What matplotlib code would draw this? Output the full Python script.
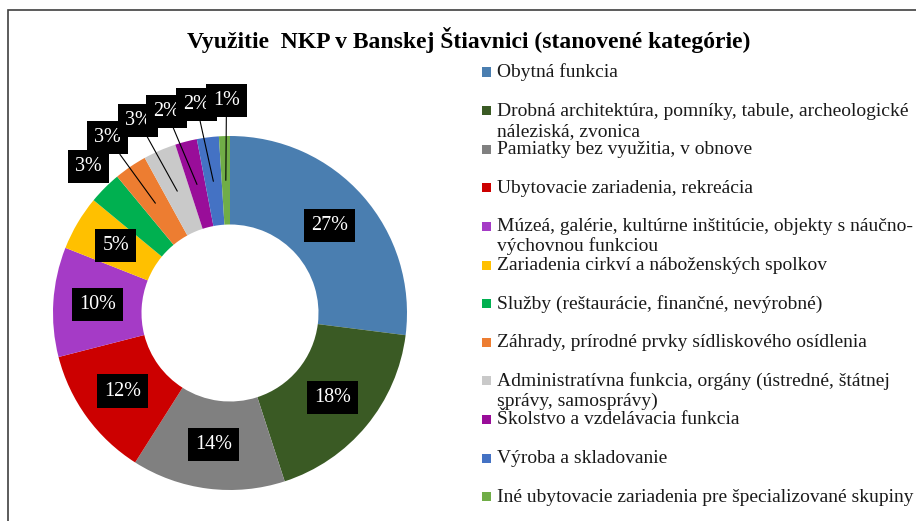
import numpy as np
import matplotlib.pyplot as plt
from matplotlib.patches import Rectangle

W, H = 916, 521

categories = [
    "Obytná funkcia",
    "Drobná architektúra, pomníky, tabule, archeologické\nnáleziská, zvonica",
    "Pamiatky bez využitia, v obnove",
    "Ubytovacie zariadenia, rekreácia",
    "Múzeá, galérie, kultúrne inštitúcie, objekty s náučno-\nvýchovnou funkciou",
    "Zariadenia cirkví a náboženských spolkov",
    "Služby (reštaurácie, finančné, nevýrobné)",
    "Záhrady, prírodné prvky sídliskového osídlenia",
    "Administratívna funkcia, orgány (ústredné, štátnej\nsprávy, samosprávy)",
    "Školstvo a vzdelávacia funkcia",
    "Výroba a skladovanie",
    "Iné ubytovacie zariadenia pre špecializované skupiny",
]
values = [27, 18, 14, 12, 10, 5, 3, 3, 3, 2, 2, 1]
colors = ["#4a7eb0", "#3a5a24", "#808080", "#cc0000", "#a53bc6", "#ffc000",
          "#00b050", "#ed7d31", "#c9c9c9", "#990d99", "#4472c4", "#70ad47"]

# label offsets for the small slices (in radius units), None = inside ring
outside_pos = [None, None, None, None, None, None,
               (-0.80, 0.83), (-0.69, 0.99), (-0.52, 1.09),
               (-0.36, 1.14), (-0.19, 1.18), (-0.02, 1.20)]
has_leader = [False] * 6 + [False, True, True, True, True, True]

plt.rcParams['font.family'] = ['Liberation Serif', 'DejaVu Serif']

fig = plt.figure(figsize=(W / 100, H / 100), dpi=100)

def fx(x):
    return x / W

def fy(y):
    return 1 - y / H

# chart border (only left and top visible)
fig.patches.append(Rectangle((fx(8), fy(560)), fx(1000), fy(10) - fy(560),
                             transform=fig.transFigure, fill=False,
                             ec="#404040", lw=1.2))

fig.text(fx(469), fy(40), "Využitie  NKP v Banskej Štiavnici (stanovené kategórie)",
         ha="center", va="center", fontsize=17, fontweight="bold")

# donut axes: center (230, 313) px, radius 177 px
R = 177
scale = 1.35
side = 2 * R * scale
ax = fig.add_axes([fx(230 - side / 2), fy(313 + side / 2), side / W, side / H])

wedges, _ = ax.pie(values, colors=colors, startangle=90, counterclock=False,
                   radius=1.0, wedgeprops=dict(width=0.5, edgecolor="none"))
ax.set_xlim(-scale, scale)
ax.set_ylim(-scale, scale)
ax.set_aspect("equal")
ax.axis("off")

for i, w in enumerate(wedges):
    ang = np.deg2rad((w.theta1 + w.theta2) / 2)
    mid = (0.75 * np.cos(ang), 0.75 * np.sin(ang))
    box = dict(boxstyle="square,pad=0.35", fc="black", ec="none")
    txt = f"{values[i]}%"
    if outside_pos[i] is None:
        ax.text(mid[0], mid[1], txt, ha="center", va="center", color="white",
                fontsize=14.5, bbox=box)
    elif has_leader[i]:
        ax.annotate(txt, xy=mid, xytext=outside_pos[i], ha="center", va="center",
                    color="white", fontsize=14.5, bbox=box,
                    arrowprops=dict(arrowstyle="-", color="black", lw=0.8,
                                    shrinkA=0, shrinkB=0))
    else:
        ax.text(outside_pos[i][0], outside_pos[i][1], txt, ha="center", va="center",
                color="white", fontsize=14.5, bbox=box)

# legend, evenly spaced rows (long labels overflow into the next row)
y0, dy = 72, 38.6
for i, (lab, c) in enumerate(zip(categories, colors)):
    y = y0 + i * dy
    fig.patches.append(Rectangle((fx(482), fy(y + 4.5)), 9 / W, 9 / H,
                                 transform=fig.transFigure, fc=c, ec="none"))
    for k, line in enumerate(lab.split("\n")):
        fig.text(fx(497), fy(y + 5 + k * 20), line, ha="left", va="baseline",
                 fontsize=14, color="#1a1a1a")

fig.savefig("out.png", dpi=100)
